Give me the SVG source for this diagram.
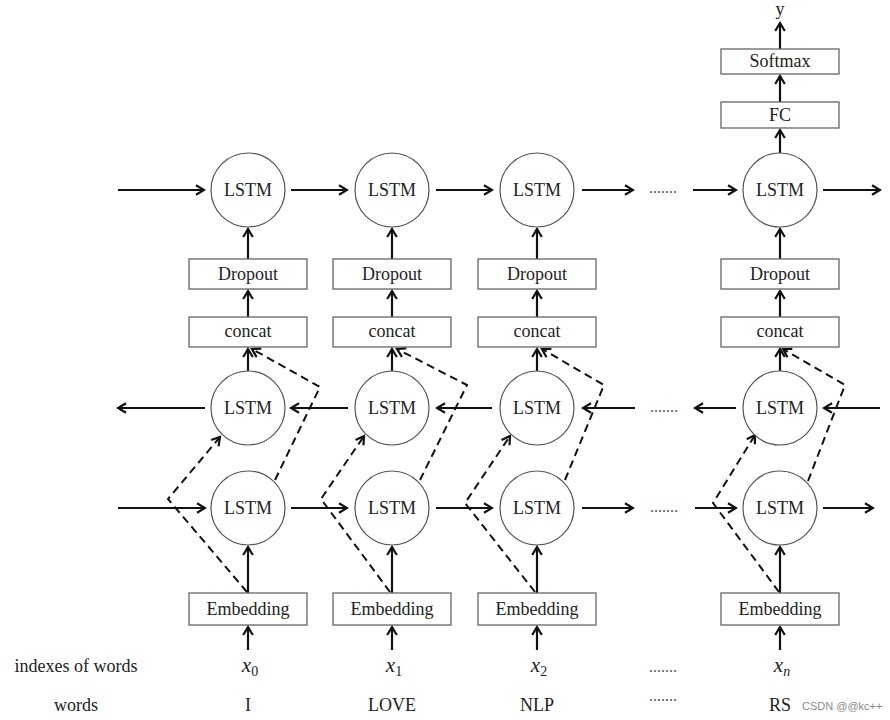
<svg xmlns="http://www.w3.org/2000/svg" width="890" height="720" viewBox="0 0 890 720">
<style>
  text { font-family: "Liberation Serif", "DejaVu Serif", serif; fill: #222; }
  .lbl { font-size: 18px; text-anchor: middle; }
  .box { fill: #fff; stroke: #666; stroke-width: 1.3; }
  .cell { fill: #fff; stroke: #555; stroke-width: 1.2; }
  .ar { fill: none; stroke: #111; stroke-width: 2.2; marker-end: url(#ah); }
  .da { fill: none; stroke: #111; stroke-width: 2; stroke-dasharray: 8 5; stroke-linejoin: miter; marker-end: url(#ah); }
  .math { font-size: 21px; font-style: italic; text-anchor: middle; }
  .sub { font-size: 14px; }
  .dots { font-size: 16px; text-anchor: middle; fill: #555; }
  .wm { font-family: "Liberation Sans", "DejaVu Sans", sans-serif; font-size: 11px; fill: #8a8a8a; }
</style>
<defs>
  <marker id="ah" viewBox="-11 -7 13 14" refX="0" refY="0" markerWidth="13" markerHeight="14" markerUnits="userSpaceOnUse" orient="auto">
    <path d="M-8,-4.8 L0,0 L-8,4.8" fill="none" stroke="#111" stroke-width="2.2"/>
  </marker>
</defs>

<g id="connectors">
  <line class="ar" x1="118" y1="190" x2="204" y2="190"/>
  <line class="ar" x1="291" y1="190" x2="347" y2="190"/>
  <line class="ar" x1="436" y1="190" x2="492" y2="190"/>
  <line class="ar" x1="582" y1="190" x2="633" y2="190"/>
  <line class="ar" x1="693" y1="190" x2="736" y2="190"/>
  <line class="ar" x1="823" y1="190" x2="880" y2="190"/>
  <line class="ar" x1="205" y1="408" x2="118" y2="408"/>
  <line class="ar" x1="348" y1="408" x2="291" y2="408"/>
  <line class="ar" x1="492" y1="408" x2="437" y2="408"/>
  <line class="ar" x1="635" y1="408" x2="583" y2="408"/>
  <line class="ar" x1="736" y1="408" x2="695" y2="408"/>
  <line class="ar" x1="880" y1="408" x2="824" y2="408"/>
  <line class="ar" x1="118" y1="508" x2="205" y2="508"/>
  <line class="ar" x1="291" y1="508" x2="347" y2="508"/>
  <line class="ar" x1="436" y1="508" x2="492" y2="508"/>
  <line class="ar" x1="582" y1="508" x2="633" y2="508"/>
  <line class="ar" x1="695" y1="508" x2="736" y2="508"/>
  <line class="ar" x1="823" y1="508" x2="873" y2="508"/>

  <line class="ar" x1="248" y1="650" x2="248" y2="627"/>
  <line class="ar" x1="248" y1="593" x2="248" y2="547"/>
  <line class="ar" x1="248" y1="371" x2="248" y2="349"/>
  <line class="ar" x1="248" y1="317" x2="248" y2="291"/>
  <line class="ar" x1="248" y1="259" x2="248" y2="229"/>
  <line class="ar" x1="392" y1="650" x2="392" y2="627"/>
  <line class="ar" x1="392" y1="593" x2="392" y2="547"/>
  <line class="ar" x1="392" y1="371" x2="392" y2="349"/>
  <line class="ar" x1="392" y1="317" x2="392" y2="291"/>
  <line class="ar" x1="392" y1="259" x2="392" y2="229"/>
  <line class="ar" x1="537" y1="650" x2="537" y2="627"/>
  <line class="ar" x1="537" y1="593" x2="537" y2="547"/>
  <line class="ar" x1="537" y1="371" x2="537" y2="349"/>
  <line class="ar" x1="537" y1="317" x2="537" y2="291"/>
  <line class="ar" x1="537" y1="259" x2="537" y2="229"/>
  <line class="ar" x1="780" y1="650" x2="780" y2="627"/>
  <line class="ar" x1="780" y1="593" x2="780" y2="547"/>
  <line class="ar" x1="780" y1="371" x2="780" y2="349"/>
  <line class="ar" x1="780" y1="317" x2="780" y2="291"/>
  <line class="ar" x1="780" y1="259" x2="780" y2="229"/>
  <line class="ar" x1="780" y1="153" x2="780" y2="130"/>
  <line class="ar" x1="780" y1="102" x2="780" y2="76"/>
  <line class="ar" x1="780" y1="49" x2="780" y2="23"/>

  <polyline class="da" points="247,592 168,499 220,437"/>
  <polyline class="da" points="275,480 320,387 252,349"/>
  <polyline class="da" points="390,592 321,499 364,436"/>
  <polyline class="da" points="420,480 467,385 397,349"/>
  <polyline class="da" points="535,592 465,503 510,436"/>
  <polyline class="da" points="565,480 604,385 542,349"/>
  <polyline class="da" points="779,592 713,503 755,435"/>
  <polyline class="da" points="808,481 845,385 783,349"/>
</g>

<g id="lstm-top-1"><circle class="cell" cx="248" cy="190" r="37"/><text class="lbl" x="248" y="196">LSTM</text></g>
<g id="dropout-1"><rect class="box" x="189" y="259" width="118" height="30"/><text class="lbl" x="248" y="280">Dropout</text></g>
<g id="concat-1"><rect class="box" x="189" y="317" width="118" height="30"/><text class="lbl" x="248" y="337">concat</text></g>
<g id="lstm-bwd-1"><circle class="cell" cx="248" cy="408" r="37"/><text class="lbl" x="248" y="414">LSTM</text></g>
<g id="lstm-fwd-1"><circle class="cell" cx="248" cy="508" r="37"/><text class="lbl" x="248" y="514">LSTM</text></g>
<g id="embedding-1"><rect class="box" x="189" y="593" width="118" height="32"/><text class="lbl" x="248" y="615">Embedding</text></g>

<g id="lstm-top-2"><circle class="cell" cx="392" cy="190" r="37"/><text class="lbl" x="392" y="196">LSTM</text></g>
<g id="dropout-2"><rect class="box" x="333" y="259" width="118" height="30"/><text class="lbl" x="392" y="280">Dropout</text></g>
<g id="concat-2"><rect class="box" x="333" y="317" width="118" height="30"/><text class="lbl" x="392" y="337">concat</text></g>
<g id="lstm-bwd-2"><circle class="cell" cx="392" cy="408" r="37"/><text class="lbl" x="392" y="414">LSTM</text></g>
<g id="lstm-fwd-2"><circle class="cell" cx="392" cy="508" r="37"/><text class="lbl" x="392" y="514">LSTM</text></g>
<g id="embedding-2"><rect class="box" x="333" y="593" width="118" height="32"/><text class="lbl" x="392" y="615">Embedding</text></g>

<g id="lstm-top-3"><circle class="cell" cx="537" cy="190" r="37"/><text class="lbl" x="537" y="196">LSTM</text></g>
<g id="dropout-3"><rect class="box" x="478" y="259" width="118" height="30"/><text class="lbl" x="537" y="280">Dropout</text></g>
<g id="concat-3"><rect class="box" x="478" y="317" width="118" height="30"/><text class="lbl" x="537" y="337">concat</text></g>
<g id="lstm-bwd-3"><circle class="cell" cx="537" cy="408" r="37"/><text class="lbl" x="537" y="414">LSTM</text></g>
<g id="lstm-fwd-3"><circle class="cell" cx="537" cy="508" r="37"/><text class="lbl" x="537" y="514">LSTM</text></g>
<g id="embedding-3"><rect class="box" x="478" y="593" width="118" height="32"/><text class="lbl" x="537" y="615">Embedding</text></g>

<g id="softmax"><rect class="box" x="721" y="49" width="118" height="25"/><text class="lbl" x="780" y="67">Softmax</text></g>
<g id="fc"><rect class="box" x="721" y="102" width="118" height="26"/><text class="lbl" x="780" y="121">FC</text></g>
<g id="lstm-top-4"><circle class="cell" cx="780" cy="190" r="37"/><text class="lbl" x="780" y="196">LSTM</text></g>
<g id="dropout-4"><rect class="box" x="721" y="259" width="118" height="30"/><text class="lbl" x="780" y="280">Dropout</text></g>
<g id="concat-4"><rect class="box" x="721" y="317" width="118" height="30"/><text class="lbl" x="780" y="337">concat</text></g>
<g id="lstm-bwd-4"><circle class="cell" cx="780" cy="408" r="37"/><text class="lbl" x="780" y="414">LSTM</text></g>
<g id="lstm-fwd-4"><circle class="cell" cx="780" cy="508" r="37"/><text class="lbl" x="780" y="514">LSTM</text></g>
<g id="embedding-4"><rect class="box" x="721" y="593" width="118" height="32"/><text class="lbl" x="780" y="615">Embedding</text></g>

<g id="output-y"><text class="lbl" x="780" y="15" font-size="15">y</text></g>

<g id="ellipses">
  <text class="dots" x="663" y="193">.......</text>
  <text class="dots" x="664" y="412">.......</text>
  <text class="dots" x="664" y="512">.......</text>
  <text class="dots" x="663" y="672">.......</text>
  <text class="dots" x="663" y="701">.......</text>
</g>

<g id="row-labels">
  <text class="lbl" x="76" y="672">indexes of words</text>
  <text class="lbl" x="76" y="711">words</text>
</g>
<g id="inputs">
  <text class="math" x="250" y="672">x<tspan class="sub" dy="4" font-style="normal">0</tspan></text>
  <text class="math" x="394" y="672">x<tspan class="sub" dy="4" font-style="normal">1</tspan></text>
  <text class="math" x="539" y="672">x<tspan class="sub" dy="4" font-style="normal">2</tspan></text>
  <text class="math" x="782" y="672">x<tspan class="sub" dy="4">n</tspan></text>
</g>
<g id="words">
  <text class="lbl" x="248" y="711">I</text>
  <text class="lbl" x="392" y="711">LOVE</text>
  <text class="lbl" x="537" y="711">NLP</text>
  <text class="lbl" x="780" y="711">RS</text>
</g>
<text class="wm" x="802" y="710">CSDN @@kc++</text>
</svg>
